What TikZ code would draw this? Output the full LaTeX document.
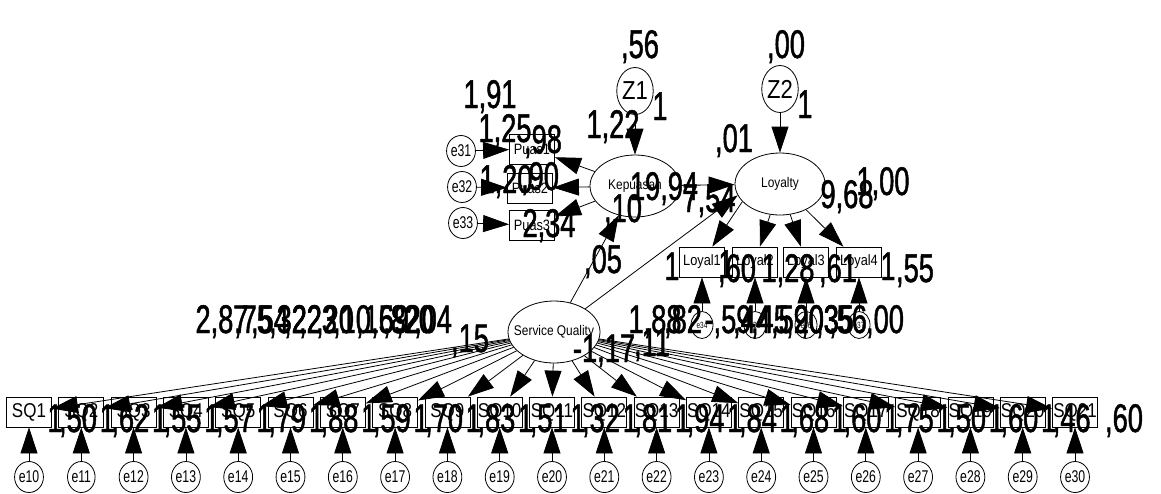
\documentclass[tikz,border=0pt]{standalone}
\usepackage{fontspec}
\setmainfont{Liberation Sans}
\newfontfamily\lblfont[FakeStretch=0.68,FakeBold=1.2]{Liberation Sans}
\newfontfamily\nodefont[FakeStretch=0.85]{Liberation Sans}
\newfontfamily\errfont[FakeStretch=0.72]{Liberation Sans}
\usetikzlibrary{arrows.meta,shapes.geometric}
\tikzset{
  lat/.style={draw, ellipse, line width=0.8pt, inner sep=0pt, minimum width=90pt, minimum height=62pt},
  latlabel/.style={font=\nodefont\fontsize{14}{14}\selectfont},
  zeta/.style={draw, ellipse, line width=0.8pt, inner sep=0pt, minimum width=35pt, minimum height=47pt, font=\nodefont\fontsize{26}{26}\selectfont},
  obs/.style={draw, rectangle, line width=0.8pt, minimum width=45pt, minimum height=30pt, inner sep=0pt, font=\nodefont\fontsize{15}{15}\selectfont},
  sqbox/.style={draw, rectangle, line width=0.8pt, minimum width=45pt, minimum height=30pt, inner sep=0pt, font=\nodefont\fontsize{20}{20}\selectfont},
  err/.style={draw, ellipse, line width=0.8pt, minimum width=25pt, minimum height=31pt, inner sep=0pt, font=\errfont\fontsize{17}{17}\selectfont},
  serr/.style={draw, ellipse, line width=0.8pt, minimum width=22pt, minimum height=27pt, inner sep=0pt, font=\errfont\fontsize{9}{9}\selectfont},
  arr/.style={line width=0.8pt, -{Triangle[length=26pt,width=17pt]}},
  num/.style={anchor=base, inner sep=0pt, font=\lblfont\fontsize{40}{40}\selectfont},
}
\begin{document}
\begin{tikzpicture}[x=1pt,y=-1pt]
\useasboundingbox (0,0) rectangle (1161,493);
% latent variables
\node[lat, label={[latlabel]center:Kepuasan}] (kep) at (635,186) {};
\node[lat, label={[latlabel]center:Loyalty}] (loy) at (780,184) {};
\node[lat, minimum width=92pt, label={[latlabel]center:Service Quality}] (sq) at (554,332) {};
\node[zeta] (z1) at (635,91) {Z1};
\node[zeta] (z2) at (780,89) {Z2};
% Kepuasan indicators
\node[obs] (puas1) at (532,149) {Puas1};
\node[obs] (puas2) at (530,188) {Puas2};
\node[obs] (puas3) at (532,225) {Puas3};
\node[err] (e31) at (461,151) {e31};
\node[err] (e32) at (462,187) {e32};
\node[err] (e33) at (463,223) {e33};
% Loyalty indicators
\foreach \i/\xx/\ee in {1/702/34,2/755/35,3/806/36,4/859/37} {
  \node[obs] (loyal\i) at (\xx,262) {Loyal\i};
  \node[serr] (e\ee) at (\xx,325) {e\ee};
  \draw[arr] (e\ee) -- (loyal\i);
}
% paths
\draw[arr] (z1) -- (kep);
\draw[arr] (z2) -- (loy);
\draw[arr] (e31) -- (puas1);
\draw[arr] (e32) -- (puas2);
\draw[arr] (e33) -- (puas3);
\draw[arr] (kep) -- (puas1);
\draw[arr] (kep) -- (puas2);
\draw[arr] (kep) -- (puas3);
\draw[arr] (kep) -- (loy);
\draw[arr] (sq) -- (kep);
\draw[arr] (sq) -- (loy.195);
\draw[arr] (loy.205) -- (loyal1);
\draw[arr] (loy) -- (loyal2);
\draw[arr] (loy) -- (loyal3);
\draw[arr] (loy) -- (loyal4);
% Service Quality indicators
\foreach \i in {1,...,21} {
  \pgfmathsetmacro\xx{29+52.3*(\i-1)}
  \pgfmathtruncatemacro\ee{\i+9}
  \node[sqbox] (SQ\i) at (\xx,412) {SQ\i};
  \node[err] (e\ee) at (\xx,477) {e\ee};
  \draw[arr] (e\ee) -- (SQ\i);
  \draw[arr] (sq) -- (SQ\i);
}
% SQ indicator labels
\foreach \i/\v in {1/50,2/62,3/55,4/57,5/79,6/88,7/59,8/70,9/83,10/51,11/32,12/81,13/94,14/84,15/68,16/60,17/75,18/50,19/60,20/46,21/60} {
  \pgfmathsetmacro\xx{29+52.3*(\i-1)}
  \node[num] at (\xx+49,432) {,\v};
}
\foreach \i in {1,...,20} {
  \pgfmathsetmacro\xx{29+52.3*(\i-1)}
  \node[num] at (\xx+26,432) {1};
}
% labels top part
\node[num] at (640,58) {,56};
\node[num] at (786,58) {,00};
\node[num] at (490,108) {1,91};
\node[num] at (505,142) {1,25};
\node[num] at (543,153) {,98};
\node[num] at (506,193) {1,20};
\node[num] at (540,190) {,90};
\node[num] at (549,237) {2,34};
\node[num] at (613,138) {1,22};
\node[num] at (660,120) {1};
\node[num] at (664,200) {19,94};
\node[num] at (623,222) {,10};
\node[num] at (709,212) {7,54};
\node[num] at (734,152) {,01};
\node[num] at (805,118) {1};
\node[num] at (847,208) {9,68};
\node[num] at (883,195) {1,00};
\node[num] at (603,273) {,05};
% Loyal row labels
\node[num] at (672,280) {1};
\node[num] at (726,278) {1};
\node[num] at (737,282) {,60};
\node[num] at (788,282) {1,28};
\node[num] at (838,282) {,61};
\node[num] at (888,280) {1};
\node[num] at (915,282) {,55};
% right row labels
\foreach \t/\xx in {1{,}88/655,{,}82/683,-{,}59/728,{,}44/752,{,}45/770,{,}52/790,{,}90/805,{,}03/820,{,}35/835,{,}56/848,{,}00/885} {
  \node[num] at (\xx,333) {\t};
}
\node[num] at (604,362) {-1,17};
\node[num] at (652,356) {,11};
% left row labels
\foreach \t/\xx in {2{,}87/222,{,}75/253,{,}54/270,{,}32/288,{,}22/303,{,}23/318,{,}20/335,{,}10/352,{,}16/375,{,}59/390,{,}82/402,{,}20/415,{,}04/433} {
  \node[num] at (\xx,333) {\t};
}
\node[num] at (470,352) {,15};
\end{tikzpicture}
\end{document}
